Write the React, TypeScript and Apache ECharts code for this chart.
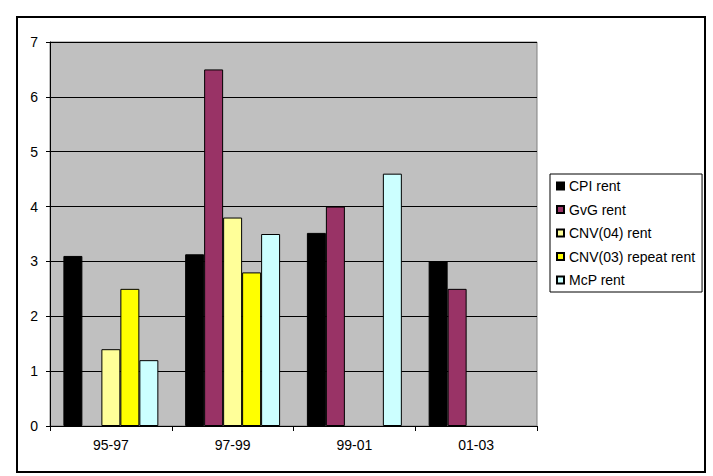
import * as echarts from "echarts";
import { useEffect, useRef } from "react";

const categories = ["95-97", "97-99", "99-01", "01-03"];
const cpiRent = [3.1, 3.13, 3.52, 3.0];
const gvgRent = [null, 6.5, 4.0, 2.5];
const cnv04Rent = [1.4, 3.8, null, null];
const cnv03RepeatRent = [2.5, 2.8, null, null];
const mcpRent = [1.2, 3.5, 4.6, null];
const yTicks = [0, 1, 2, 3, 4, 5, 6, 7];

const seriesDefs = [
  { name: "CPI rent", data: cpiRent, color: "#000000" },
  { name: "GvG rent", data: gvgRent, color: "#993366" },
  { name: "CNV(04) rent", data: cnv04Rent, color: "#FFFF99" },
  { name: "CNV(03) repeat rent", data: cnv03RepeatRent, color: "#FFFF00" },
  { name: "McP rent", data: mcpRent, color: "#CCFFFF" },
];

const font = "Arial, 'Liberation Sans', sans-serif";

export default function App() {
  const ref = useRef<HTMLDivElement | null>(null);

  useEffect(() => {
    if (!ref.current) return;
    const chart = echarts.init(ref.current, undefined, { renderer: "svg" });
    chart.setOption({
      animation: false,
      backgroundColor: "#ffffff",
      textStyle: { fontFamily: font },
      grid: {
        left: 50,
        right: 176,
        top: 42,
        bottom: 50,
        show: true,
        backgroundColor: "#C0C0C0",
        borderColor: "#808080",
        borderWidth: 1,
      },
      graphic: [
        {
          type: "rect",
          shape: { x: 17, y: 17, width: 688, height: 455 },
          style: { fill: "none", stroke: "#000", lineWidth: 2 },
          silent: true,
        },
      ],
      legend: {
        orient: "vertical",
        left: 550,
        top: 174,
        padding: [4, 7, 4, 6],
        borderColor: "#000",
        borderWidth: 1,
        icon: "rect",
        itemWidth: 7,
        itemHeight: 7,
        itemGap: 7.5,
        textStyle: { fontSize: 14, color: "#000", fontFamily: font, lineHeight: 16 },
        data: seriesDefs.map((s) => s.name),
      },
      xAxis: {
        type: "category",
        data: categories,
        axisLine: { lineStyle: { color: "#000", width: 1 } },
        axisTick: { show: true, length: 5, lineStyle: { color: "#000" } },
        axisLabel: { fontSize: 14, color: "#000", margin: 12, fontFamily: font },
        splitLine: { show: false },
      },
      yAxis: {
        type: "value",
        min: yTicks[0],
        max: yTicks[yTicks.length - 1],
        interval: 1,
        axisLine: { show: true, lineStyle: { color: "#000", width: 1 } },
        axisTick: { show: true, length: 4, lineStyle: { color: "#000" } },
        axisLabel: { fontSize: 14, color: "#000", margin: 12, fontFamily: font },
        splitLine: { show: true, lineStyle: { color: "#000", width: 1 } },
      },
      series: seriesDefs.map((s) => ({
        type: "bar",
        name: s.name,
        data: s.data.map((v) => (v === null ? "-" : v)),
        barGap: "0%",
        barCategoryGap: "22%",
        itemStyle: { color: s.color, borderColor: "#000", borderWidth: 1 },
      })),
    });
    return () => {
      chart.dispose();
    };
  }, []);

  return (
    <div
      ref={ref}
      style={{ position: "absolute", left: 0, top: 0, width: 713, height: 476 }}
    />
  );
}
